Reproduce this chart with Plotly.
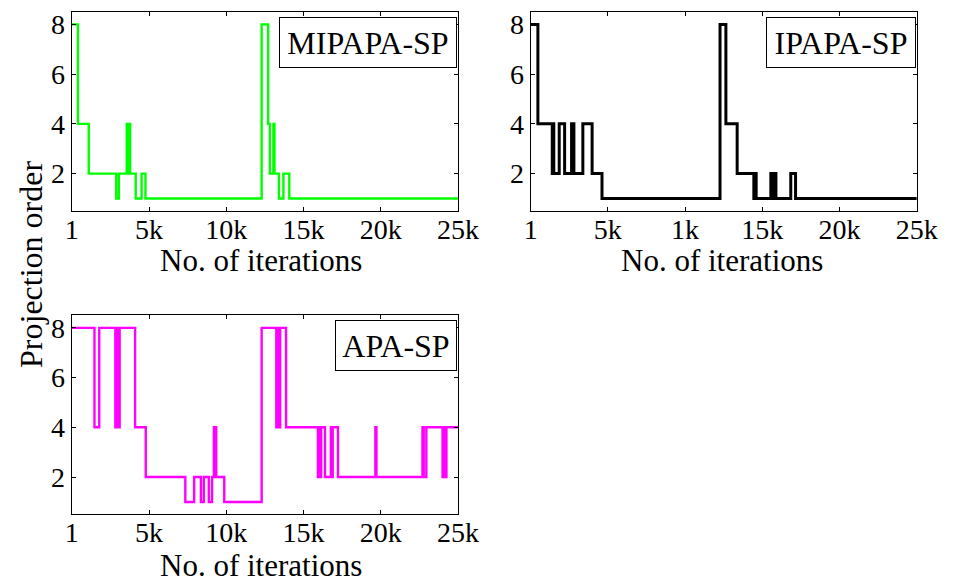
import plotly.graph_objects as go

# Iteration index at which each projection order starts (step traces)
mipapa_iter = [1, 400, 1100, 2880, 3050, 3560, 3620, 3660, 3780, 4140, 4520, 4770,
               12290, 12710, 12820, 13050, 13120, 13410, 13700, 14080, 25000]
mipapa_order = [8, 4, 2, 1, 2, 4, 2, 4, 2, 1, 2, 1,
                8, 4, 2, 4, 2, 1, 2, 1, 1]

ipapa_iter = [1, 470, 1400, 1450, 1500, 1850, 2200, 2650, 2800, 3380, 3980, 4620,
              12260, 12640, 13370, 14450, 14520, 14600, 15550, 15700, 15760, 15880,
              16840, 17150, 25000]
ipapa_order = [8, 4, 2, 4, 2, 4, 2, 4, 2, 4, 2, 1,
               8, 4, 2, 1, 2, 1, 2, 1, 2, 1,
               2, 1, 1]

apa_iter = [1, 1470, 1780, 2820, 2900, 2960, 3100, 4100, 4790, 7350, 7920, 8360,
            8550, 8870, 9080, 9200, 9350, 9870, 12290, 13240, 13320, 13400, 13490,
            13870, 15930, 16000, 16050, 16140, 16390, 16770, 16830, 16890, 17230,
            19650, 19720, 22700, 22780, 22950, 24000, 24100, 24150, 24250, 25000]
apa_order = [8, 4, 8, 4, 8, 4, 8, 4, 2, 1, 2, 1,
             2, 1, 2, 4, 2, 1, 8, 4, 8, 4, 8,
             4, 2, 4, 2, 4, 2, 4, 2, 4, 2,
             4, 2, 4, 2, 4, 2, 4, 2, 4, 4]

x_tick_vals = [1, 5000, 10000, 15000, 20000, 25000]
x_tick_text = ["1", "5k", "10k", "15k", "20k", "25k"]
x_tick_text_ipapa = ["1", "5k", "1k", "15k", "20k", "25k"]
y_tick_vals = [2, 4, 6, 8]

W, H = 965, 585
FONT = "Liberation Serif"


def px_x(p):
    return p / W


def px_y(p):
    return 1 - p / H


fig = go.Figure()

panels = [
    ("x", "y", mipapa_iter, mipapa_order, "#00FF00", 2.4, "MIPAPA-SP"),
    ("x2", "y2", ipapa_iter, ipapa_order, "#000000", 3.0, "IPAPA-SP"),
    ("x3", "y3", apa_iter, apa_order, "#FF00FF", 2.4, "APA-SP"),
]
for xa, ya, xs, ys, col, lw, name in panels:
    fig.add_trace(go.Scatter(x=xs, y=ys, mode="lines", line_shape="hv",
                             line=dict(color=col, width=lw),
                             xaxis=xa, yaxis=ya, name=name, showlegend=False))

domains = {
    "1": ([px_x(66.7), px_x(464.5)], [px_y(209), px_y(9)]),
    "2": ([px_x(539.3), px_x(937)], [px_y(209), px_y(9)]),
    "3": ([px_x(66.7), px_x(464.5)], [px_y(514), px_y(314)]),
}

axis_common = dict(showline=True, linecolor="black", linewidth=1.2, mirror="ticks",
                   ticks="inside", ticklen=4, tickcolor="black", showgrid=False,
                   zeroline=False, tickfont=dict(family=FONT, size=28, color="black"))

layout = dict(width=W, height=H, margin=dict(l=0, r=0, t=0, b=0),
              paper_bgcolor="white", plot_bgcolor="white", showlegend=False)

for key, (dx, dy) in domains.items():
    sfx = "" if key == "1" else key
    ttext = x_tick_text_ipapa if key == "2" else x_tick_text
    layout["xaxis" + sfx] = dict(domain=dx, anchor="y" + sfx, range=[1, 25000],
                                 tickmode="array", tickvals=x_tick_vals, ticktext=ttext,
                                 ticklabelstandoff=-7, **axis_common)
    layout["yaxis" + sfx] = dict(domain=dy, anchor="x" + sfx, range=[0.5, 8.5],
                                 tickmode="array", tickvals=y_tick_vals,
                                 **axis_common)

fig.update_layout(**layout)

# Method name boxes in the upper-right corner of each panel
boxes = [("x", "y", "MIPAPA-SP", 176), ("x2", "y2", "IPAPA-SP", 148), ("x3", "y3", "APA-SP", 120)]
for xa, ya, label, wbox in boxes:
    fig.add_annotation(xref=xa + " domain", yref=ya + " domain", x=0.997, y=0.975,
                       xanchor="right", yanchor="top", text=label, showarrow=False,
                       width=wbox, height=49, bgcolor="white", bordercolor="black",
                       borderwidth=1, borderpad=0,
                       font=dict(family=FONT, size=32, color="black"))

# Axis titles
for cx, cy in [(262, 259), (736, 259), (262, 565)]:
    fig.add_annotation(xref="paper", yref="paper", x=px_x(cx), y=px_y(cy),
                       xanchor="center", yanchor="middle", showarrow=False,
                       text="No. of iterations",
                       font=dict(family=FONT, size=31, color="black"))

fig.add_annotation(xref="paper", yref="paper", x=px_x(24), y=px_y(263),
                   xanchor="center", yanchor="middle", showarrow=False,
                   text="Projection order", textangle=-90,
                   font=dict(family=FONT, size=32, color="black"))

fig.write_html("out.html")
